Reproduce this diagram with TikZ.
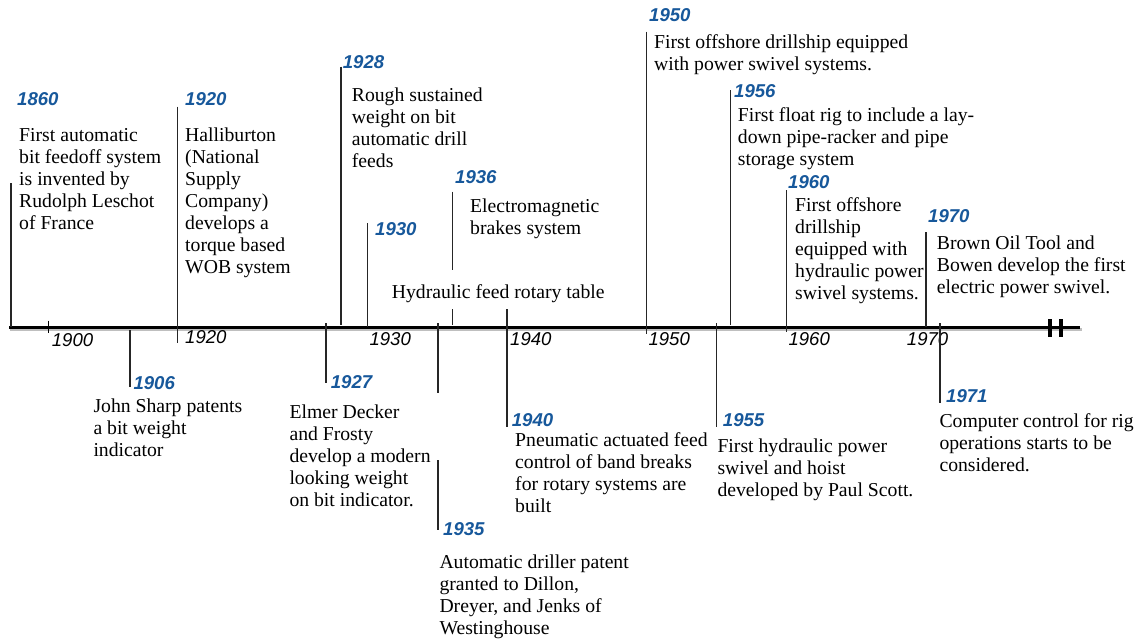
\documentclass[tikz,border=0pt]{standalone}
\usepackage{fontspec}
\setmainfont{Liberation Serif}
\newfontfamily\arialf{Liberation Sans}
\definecolor{yearblue}{RGB}{23,88,155}
\tikzset{
  ev/.style={anchor=north west, inner sep=0pt, align=left, yshift=-2.5pt,
    font=\fontsize{19.7}{22}\selectfont, execute at begin node=\strut},
  yr/.style={anchor=base west, inner sep=0pt, text=yearblue,
    font=\arialf\bfseries\itshape\fontsize{18.6}{20}\selectfont},
  ax/.style={anchor=base west, inner sep=0pt,
    font=\arialf\itshape\fontsize{18.6}{20}\selectfont},
  lead/.style={line width=1.2pt, draw=black!85},
  axisline/.style={line width=3.4pt, draw=black},
  shadow/.style={line width=3.4pt, draw=black!25},
}
\newcommand{\tl}[3]{\node[ev] (#1) at (#2) {#3};}
\begin{document}
\begin{tikzpicture}[x=1pt,y=-1pt]
\useasboundingbox (0,0) rectangle (1140,640);
% axis
\draw[shadow] (10,329.5) -- (1082,329.5);
\draw[axisline] (9,327.3) -- (1080,327.3);
\draw[line width=3.6pt] (1050,319) -- (1050,337);
\draw[line width=3.6pt] (1061,319) -- (1061,337);
\draw[line width=1.2pt] (48.3,320.7) -- (48.3,333);
% axis labels
\node[ax] (a1900) at (51.7,346.7) {1900};
\node[ax] (a1920) at (185,343.3) {1920};
\node[ax] (a1930) at (369.3,345) {1930};
\node[ax] (a1940) at (510,345) {1940};
\node[ax] (a1950) at (648.3,345) {1950};
\node[ax] (a1960) at (788.3,345) {1960};
\node[ax] (a1970) at (906.7,345) {1970};
% leader lines above
\draw[lead] (11,183.3) -- (11,327);
\draw[lead] (177.7,106.7) -- (177.7,343);
\draw[lead] (341,66.7) -- (341,325);
\draw[lead] (367.7,223.3) -- (367.7,327);
\draw[lead] (452.3,191.7) -- (452.3,270);
\draw[lead] (452.3,309) -- (452.3,325);
\draw[lead] (507,309) -- (507,427);
\draw[lead] (646.7,31.7) -- (646.7,334);
\draw[lead] (730.7,90) -- (730.7,325);
\draw[lead] (786.7,190) -- (786.7,332);
\draw[lead] (926,232.3) -- (926,327);
% leader lines below
\draw[lead] (130,330) -- (130,386.7);
\draw[lead] (326,323) -- (326,383);
\draw[lead] (438,323) -- (438,393);
\draw[lead] (438,460) -- (438,530);
\draw[lead] (716.7,323) -- (716.7,427.3);
\draw[lead] (940,323) -- (940,402.7);
% year labels
\node[yr] (y1860) at (17,105) {1860};
\node[yr] (y1920) at (185,105) {1920};
\node[yr] (y1928) at (342.7,68.3) {1928};
\node[yr] (y1930) at (375,235) {1930};
\node[yr] (y1936) at (455,183.3) {1936};
\node[yr] (y1950) at (649,21.7) {1950};
\node[yr] (y1956) at (734,97.7) {1956};
\node[yr] (y1960) at (788,188.3) {1960};
\node[yr] (y1970) at (928,222.3) {1970};
\node[yr] (y1906) at (133.3,389.3) {1906};
\node[yr] (y1927) at (330.7,388) {1927};
\node[yr] (y1935) at (443,535) {1935};
\node[yr] (y1940) at (511.7,426.7) {1940};
\node[yr] (y1955) at (722.7,426.7) {1955};
\node[yr] (y1971) at (946,402.7) {1971};
% event texts (y = first baseline - 15.4)
\tl{t1860}{19,125.6}{First automatic\\bit feedoff system\\is invented by\\Rudolph Leschot\\of France}
\tl{t1920}{185,125.6}{Halliburton\\(National\\Supply\\Company)\\develops a\\torque based\\WOB system}
\tl{t1928}{351.7,85.6}{Rough sustained\\weight on bit\\automatic drill\\feeds}
\tl{t1936}{470,196.3}{Electromagnetic\\brakes system}
\tl{t1930}{391.7,280.6}{Hydraulic feed rotary table}
\tl{t1950}{654,32.3}{First offshore drillship equipped\\with power swivel systems.}
\tl{t1956}{737.7,105.3}{First float rig to include a lay-\\down pipe-racker and pipe\\storage system}
\tl{t1960}{795,194.6}{First offshore\\drillship\\equipped with\\hydraulic power\\swivel systems.}
\tl{t1970}{936.7,232.9}{Brown Oil Tool and\\Bowen develop the first\\electric power swivel.}
\tl{t1906}{93.3,396.3}{John Sharp patents\\a bit weight\\indicator}
\tl{t1927}{289.3,401.9}{Elmer Decker\\and Frosty\\develop a modern\\looking weight\\on bit indicator.}
\tl{t1935}{439.3,552.6}{Automatic driller patent\\granted to Dillon,\\Dreyer, and Jenks of\\Westinghouse}
\tl{t1940}{515,429.6}{Pneumatic actuated feed\\control of band breaks\\for rotary systems are\\built}
\tl{t1955}{717.3,436.3}{First hydraulic power\\swivel and hoist\\developed by Paul Scott.}
\tl{t1971}{939.3,411.3}{Computer control for rig\\operations starts to be\\considered.}
\end{tikzpicture}
\end{document}
